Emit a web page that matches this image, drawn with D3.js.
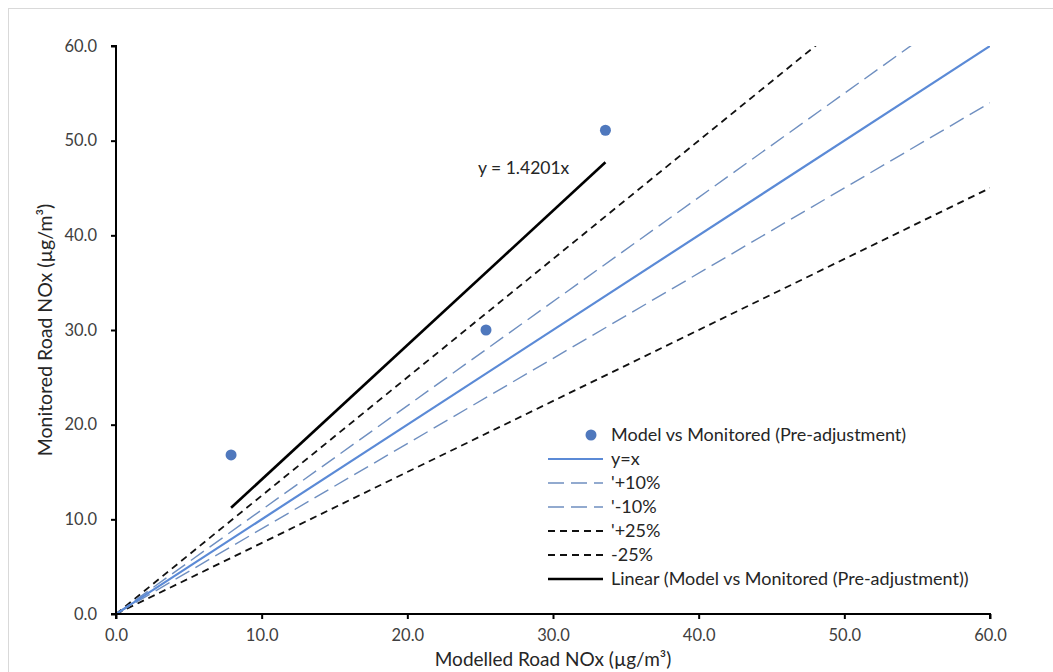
<!DOCTYPE html>
<html>
<head>
<meta charset="utf-8">
<script src="https://cdn.jsdelivr.net/npm/d3@7"></script>
<style>
  html, body { margin: 0; padding: 0; background: #fff; }
  svg { display: block; font-family: Lato, "Open Sans", sans-serif; }
</style>
</head>
<body>
<svg id="chart" width="1053" height="672"></svg>
<script>
// Measured road NOx against modelled road NOx (µg/m³)
const modelled = [7.9, 25.4, 33.6];
const monitored = [16.8, 30.0, 51.1];

// Reference lines, as [modelled, monitored] end points
const lineYX = [[0, 0], [60, 60]];
const linePlus10 = [[0, 0], [60, 66]];
const lineMinus10 = [[0, 0], [60, 54]];
const linePlus25 = [[0, 0], [60, 75]];
const lineMinus25 = [[0, 0], [60, 45]];

// Linear trend through the origin
const trendSlope = 1.4201;
const trendLabel = "y = 1.4201x";
const trendRange = [7.9, 33.6];

const xTicks = [0, 10, 20, 30, 40, 50, 60];
const yTicks = [0, 10, 20, 30, 40, 50, 60];

const legendLabels = [
  "Model vs Monitored (Pre-adjustment)",
  "y=x",
  "'+10%",
  "'-10%",
  "'+25%",
  "-25%",
  "Linear (Model vs Monitored (Pre-adjustment))"
];

const svg = d3.select("#chart");
const plot = { left: 116, right: 990, top: 46, bottom: 614 };

const x = d3.scaleLinear().domain([0, 60]).range([plot.left, plot.right]);
const y = d3.scaleLinear().domain([0, 60]).range([plot.bottom, plot.top]);

// chart area frame
svg.append("rect")
  .attr("x", 8.5).attr("y", 8.5).attr("width", 1060).attr("height", 700)
  .attr("fill", "none").attr("stroke", "#d9d9d9").attr("stroke-width", 1);

svg.append("clipPath").attr("id", "plotClip")
  .append("rect")
  .attr("x", plot.left).attr("y", plot.top)
  .attr("width", plot.right - plot.left).attr("height", plot.bottom - plot.top);

const styles = {
  yx: { stroke: "#5b8ad6", width: 2.2, dash: null },
  p10: { stroke: "#6f8fc0", width: 1.4, dash: "16,7" },
  m10: { stroke: "#6f8fc0", width: 1.4, dash: "16,7" },
  p25: { stroke: "#111", width: 1.8, dash: "7,5" },
  m25: { stroke: "#111", width: 1.8, dash: "7,5" },
  trend: { stroke: "#000", width: 2.6, dash: null }
};

const line = d3.line().x(d => x(d[0])).y(d => y(d[1]));
const gLines = svg.append("g").attr("clip-path", "url(#plotClip)");

const series = [
  [lineMinus25, styles.m25],
  [linePlus25, styles.p25],
  [lineMinus10, styles.m10],
  [linePlus10, styles.p10],
  [lineYX, styles.yx]
];
series.forEach(([data, s]) => {
  gLines.append("path")
    .datum(data)
    .attr("d", line)
    .attr("fill", "none")
    .attr("stroke", s.stroke)
    .attr("stroke-width", s.width)
    .attr("stroke-dasharray", s.dash);
});

// trend line
const trendPts = trendRange.map(v => [v, v * trendSlope]);
gLines.append("path")
  .datum(trendPts)
  .attr("d", line)
  .attr("fill", "none")
  .attr("stroke", styles.trend.stroke)
  .attr("stroke-width", styles.trend.width);

// points
svg.append("g").selectAll("circle")
  .data(modelled.map((m, i) => [m, monitored[i]]))
  .join("circle")
  .attr("cx", d => x(d[0]))
  .attr("cy", d => y(d[1]))
  .attr("r", 5.5)
  .attr("fill", "#4f78bd");

// axes
const xAxis = d3.axisBottom(x).tickValues(xTicks).tickFormat(d3.format(".1f")).tickSize(5).tickPadding(10);
const yAxis = d3.axisLeft(y).tickValues(yTicks).tickFormat(d3.format(".1f")).tickSize(5).tickPadding(14);

const gx = svg.append("g").attr("transform", `translate(0,${plot.bottom})`).call(xAxis);
const gy = svg.append("g").attr("transform", `translate(${plot.left},0)`).call(yAxis);

[gx, gy].forEach(g => {
  g.select(".domain").attr("stroke", "#000").attr("stroke-width", 2);
  g.selectAll(".tick line").attr("stroke", "#000").attr("stroke-width", 2);
  g.selectAll(".tick text")
    .attr("fill", "#404040")
    .style("font-size", "16.5px")
    .style("font-family", "Lato, sans-serif");
});
gx.select(".domain").attr("d", `M${plot.left},5V0H${plot.right}V5`);
gy.select(".domain").attr("d", `M-5,${plot.bottom}H0V${plot.top}H-5`);

// axis titles
svg.append("text")
  .attr("x", 553)
  .attr("y", 666)
  .attr("text-anchor", "middle")
  .attr("fill", "#262626")
  .style("font-size", "19px")
  .text("Modelled Road NOx (µg/m³)");

svg.append("text")
  .attr("transform", `translate(52,${(plot.top + plot.bottom) / 2}) rotate(-90)`)
  .attr("text-anchor", "middle")
  .attr("fill", "#262626")
  .style("font-size", "19.5px")
  .text("Monitored Road NOx (µg/m³)");

// trend equation
svg.append("text")
  .attr("x", 478).attr("y", 174)
  .attr("fill", "#262626")
  .style("font-size", "17.5px")
  .text(trendLabel);

// legend
const legend = svg.append("g");
const legendTop = 435, legendStep = 24;
const legendStyles = [null, styles.yx, styles.p10, styles.m10, styles.p25, styles.m25, styles.trend];
legendLabels.forEach((label, i) => {
  const cy = legendTop + i * legendStep;
  const s = legendStyles[i];
  if (s === null) {
    legend.append("circle").attr("cx", 591).attr("cy", cy).attr("r", 5.5).attr("fill", "#4f78bd");
  } else {
    legend.append("line")
      .attr("x1", 548).attr("x2", 603).attr("y1", cy).attr("y2", cy)
      .attr("stroke", s.stroke).attr("stroke-width", s.width)
      .attr("stroke-dasharray", s.dash);
  }
  legend.append("text")
    .attr("x", 611).attr("y", cy + 6)
    .attr("fill", "#262626")
    .style("font-size", "18px")
    .text(label);
});
</script>
</body>
</html>
